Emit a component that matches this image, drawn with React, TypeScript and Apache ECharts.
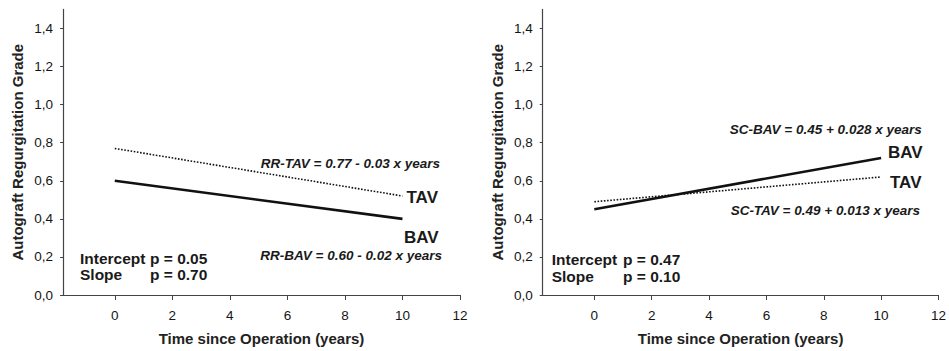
import React, { useEffect, useRef } from "react";
import * as echarts from "echarts";

// Regression lines: value at year 0 and at year 10
const years = [0, 10];
const rrTav = [0.77, 0.52];
const rrBav = [0.6, 0.4];
const scBav = [0.45, 0.72];
const scTav = [0.49, 0.62];

const xTicks = [0, 2, 4, 6, 8, 10, 12];
const yTicks = [0, 0.2, 0.4, 0.6, 0.8, 1.0, 1.2, 1.4];

const FONT = "'Liberation Sans', Arial, Helvetica, sans-serif";

const pairs = (ys: number[]) => years.map((x, i) => [x, ys[i]]);

function makeX(gridIndex: number) {
  return {
    type: "value",
    gridIndex,
    min: -1.8,
    max: 12,
    name: "Time since Operation (years)",
    nameLocation: "middle",
    nameGap: 36,
    nameTextStyle: { fontFamily: FONT, fontWeight: "bold", fontSize: 15, color: "#222" },
    axisLine: { show: true, onZero: false, lineStyle: { color: "#444", width: 1.2 } },
    axisTick: { show: true, inside: false, length: 5, customValues: xTicks, lineStyle: { color: "#444" } },
    axisLabel: { customValues: xTicks, margin: 13, fontFamily: FONT, fontSize: 13.5, color: "#151515" },
    splitLine: { show: false },
  };
}

function makeY(gridIndex: number) {
  return {
    type: "value",
    gridIndex,
    min: 0,
    max: 1.5,
    name: "Autograft Regurgitation Grade",
    nameLocation: "middle",
    nameGap: 38,
    nameTextStyle: { fontFamily: FONT, fontWeight: "bold", fontSize: 15, color: "#222" },
    axisLine: { show: true, onZero: false, lineStyle: { color: "#444", width: 1.2 } },
    axisTick: { show: true, length: 3, customValues: yTicks, lineStyle: { color: "#444" } },
    axisLabel: {
      customValues: yTicks,
      margin: 10,
      fontFamily: FONT,
      fontSize: 13.5,
      color: "#151515",
      formatter: (v: number) => v.toFixed(1).replace(".", ","),
    },
    splitLine: { show: false },
  };
}

function lineSeries(name: string, data: number[], idx: number, dotted: boolean) {
  return {
    name,
    type: "line",
    xAxisIndex: idx,
    yAxisIndex: idx,
    data: pairs(data),
    symbol: "none",
    lineStyle: dotted
      ? { color: "#111", width: 1.6, type: "dotted" }
      : { color: "#111", width: 2.6, type: "solid" },
  };
}

function txt(
  text: string,
  x: number,
  y: number,
  opts: { size?: number; bold?: boolean; italic?: boolean; align?: string } = {}
) {
  return {
    type: "text",
    x,
    y,
    style: {
      text,
      fontFamily: FONT,
      fontSize: opts.size ?? 15.5,
      fontWeight: opts.bold === false ? "normal" : "bold",
      fontStyle: opts.italic ? "italic" : "normal",
      fill: "#1a1a1a",
      align: opts.align ?? "left",
      verticalAlign: "middle",
    },
  };
}

export default function App() {
  const ref = useRef<HTMLDivElement>(null);

  useEffect(() => {
    if (!ref.current) return;
    const chart = echarts.init(ref.current, null, { renderer: "svg" });
    chart.setOption({
      animation: false,
      backgroundColor: "#fff",
      grid: [
        { left: 63, right: 489, top: 9.45, bottom: 54.3 },
        { left: 542.7, right: 9, top: 9.45, bottom: 54.3 },
      ],
      xAxis: [makeX(0), makeX(1)],
      yAxis: [makeY(0), makeY(1)],
      series: [
        lineSeries("RR-TAV", rrTav, 0, true),
        lineSeries("RR-BAV", rrBav, 0, false),
        lineSeries("SC-BAV", scBav, 1, false),
        lineSeries("SC-TAV", scTav, 1, true),
      ],
      graphic: [
        // left panel
        txt("RR-TAV = 0.77 - 0.03 x years", 440, 163, { size: 13.5, italic: true, align: "right" }),
        txt("TAV", 406.5, 197, { size: 17 }),
        txt("BAV", 404, 237, { size: 17 }),
        txt("RR-BAV = 0.60 - 0.02 x years", 442, 255, { size: 13.5, italic: true, align: "right" }),
        txt("Intercept", 80, 258.5),
        txt("p = 0.05", 150, 258.5),
        txt("Slope", 80, 274),
        txt("p = 0.70", 150, 274),
        // right panel
        txt("SC-BAV = 0.45 + 0.028 x years", 921.7, 129, { size: 13.5, italic: true, align: "right" }),
        txt("BAV", 888, 152, { size: 17 }),
        txt("TAV", 890, 182, { size: 17 }),
        txt("SC-TAV = 0.49 + 0.013 x years", 920, 210, { size: 13.5, italic: true, align: "right" }),
        txt("Intercept", 551.7, 259),
        txt("p = 0.47", 623, 259),
        txt("Slope", 551.7, 276.5),
        txt("p = 0.10", 623, 276.5),
      ],
    });
    return () => chart.dispose();
  }, []);

  return (
    <div
      ref={ref}
      style={{ position: "fixed", left: 0, top: 0, width: 949, height: 351, background: "#fff" }}
    />
  );
}
